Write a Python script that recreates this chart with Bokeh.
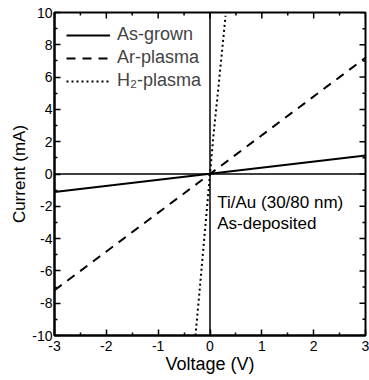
import math
from bokeh.plotting import figure
from bokeh.models import (Range1d, LinearAxis, Span, Label, Legend, LegendItem,
                          FixedTicker)
from bokeh.embed import file_html
from bokeh.resources import INLINE

# I-V curves of the Ti/Au contacts (voltage in V, current in mA)
v_grown = [-3.0, 3.0]
i_grown = [-1.12, 1.15]

v_ar = [-3.0, 3.0]
i_ar = [-7.2, 7.2]

v_h2 = [-0.28, -0.2, -0.1, 0.0, 0.07, 0.17, 0.3]
i_h2 = [-10.0, -7.2, -3.6, 0.0, 2.5, 5.6, 9.8]

x_ticks = [-3, -2, -1, 0, 1, 2, 3]
y_ticks = [-10, -8, -6, -4, -2, 0, 2, 4, 6, 8, 10]
x_minor = [-2.5, -1.5, -0.5, 0.5, 1.5, 2.5]
y_minor = [-9, -7, -5, -3, -1, 1, 3, 5, 7, 9]

FONT = "Liberation Sans"

p = figure(width=369, height=380, output_backend="svg", toolbar_location=None,
           x_range=Range1d(x_ticks[0], x_ticks[-1]),
           y_range=Range1d(y_ticks[0], y_ticks[-1]),
           x_axis_location=None, y_axis_location=None,
           min_border_left=54, min_border_right=4,
           min_border_top=12, min_border_bottom=45)
p.grid.visible = False
p.outline_line_color = "black"
p.outline_line_width = 2
p.background_fill_color = "white"
p.border_fill_color = "white"


def make_axis(ticks, minor, label):
    ax = LinearAxis(ticker=FixedTicker(ticks=ticks, minor_ticks=minor))
    ax.major_label_overrides = {t: str(t) for t in ticks}
    ax.axis_line_width = 2
    ax.major_tick_in = 6
    ax.major_tick_out = 0
    ax.minor_tick_in = 3
    ax.minor_tick_out = 0
    ax.major_tick_line_width = 1.5
    ax.minor_tick_line_width = 1.5
    ax.major_label_text_font = FONT
    ax.major_label_text_font_size = "14px"
    ax.major_label_text_color = "black"
    ax.axis_label = label
    ax.axis_label_text_font = FONT
    ax.axis_label_text_font_style = "normal"
    ax.axis_label_text_font_size = "18px"
    ax.axis_label_text_color = "black"
    return ax


xb = make_axis(x_ticks, x_minor, "Voltage (V)")
xb.major_label_standoff = 5
xb.axis_label_standoff = 0
yl = make_axis(y_ticks, y_minor, "Current (mA)")
yl.major_label_standoff = 2
yl.axis_label_standoff = 0
yl.axis_label_text_font_size = "17px"
p.add_layout(xb, "below")
p.add_layout(yl, "left")

# inward tick marks mirrored on the top and right edges of the frame
p.scatter(x_ticks, [y_ticks[-1]] * len(x_ticks), marker="dash", angle=math.pi / 2,
          size=12, line_color="black", line_width=1.5)
p.scatter(x_minor, [y_ticks[-1]] * len(x_minor), marker="dash", angle=math.pi / 2,
          size=6, line_color="black", line_width=1.5)
p.scatter([x_ticks[-1]] * len(y_ticks), y_ticks, marker="dash", size=12,
          line_color="black", line_width=1.5)
p.scatter([x_ticks[-1]] * len(y_minor), y_minor, marker="dash", size=6,
          line_color="black", line_width=1.5)

# zero lines
p.add_layout(Span(location=0, dimension="width", line_color="black", line_width=1.5))
p.add_layout(Span(location=0, dimension="height", line_color="black", line_width=1.5))

r1 = p.line(v_grown, i_grown, line_color="black", line_width=2)
r2 = p.line(v_ar, i_ar, line_color="black", line_width=2, line_dash="9 7")
r3 = p.line(v_h2, i_h2, line_color="black", line_width=2, line_dash="2 3")

legend = Legend(items=[LegendItem(label="As-grown", renderers=[r1]),
                       LegendItem(label="Ar-plasma", renderers=[r2]),
                       LegendItem(label="H₂-plasma", renderers=[r3])],
                location="top_left")
legend.background_fill_alpha = 0
legend.border_line_alpha = 0
legend.label_text_font = FONT
legend.label_text_font_size = "18px"
legend.glyph_width = 44
legend.glyph_height = 20
legend.label_height = 20
legend.label_standoff = 7
legend.spacing = 2
legend.margin = 10
legend.padding = 2
p.add_layout(legend, "center")

for txt, y in [("Ti/Au (30/80 nm)", -1.76), ("As-deposited", -3.06)]:
    p.add_layout(Label(x=0.14, y=y, text=txt, text_font=FONT,
                       text_font_size="17px", text_color="black",
                       text_baseline="middle"))

open("out.html", "w").write(file_html(p, INLINE))
